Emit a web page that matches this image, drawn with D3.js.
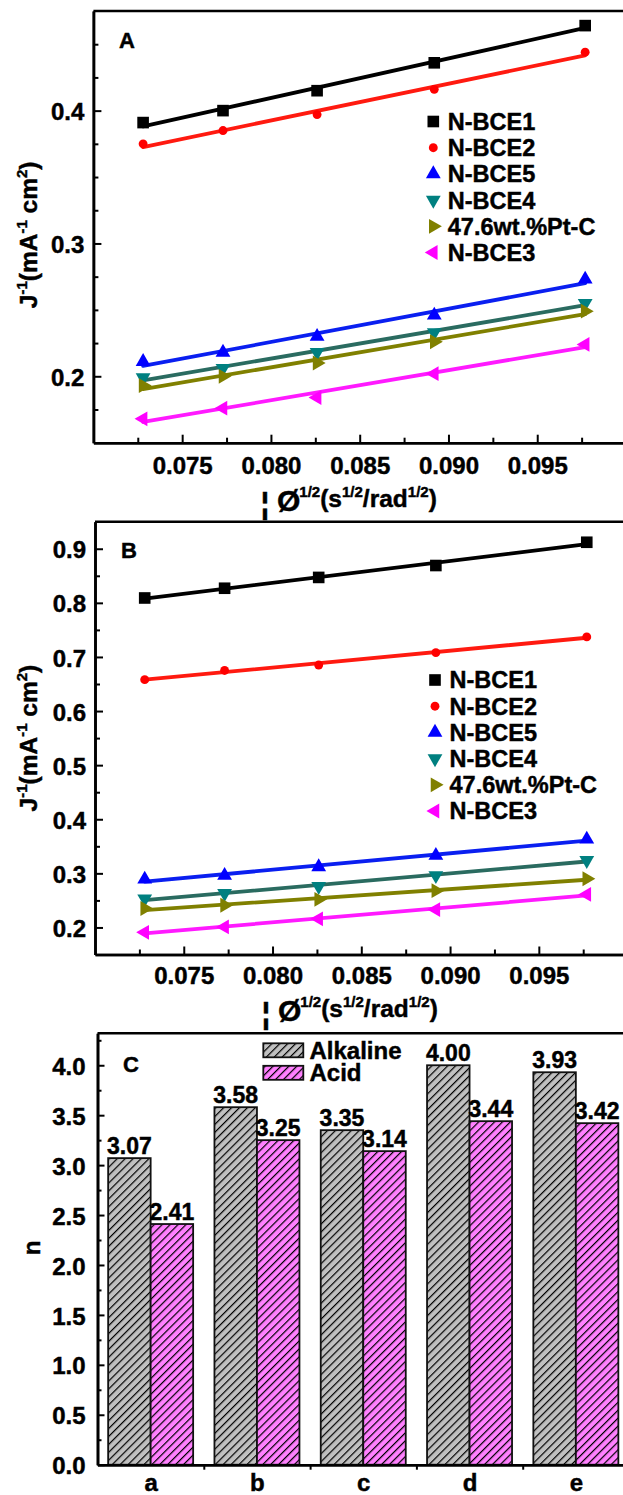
<!DOCTYPE html>
<html>
<head>
<meta charset="utf-8">
<script src="https://cdn.jsdelivr.net/npm/d3@7"></script>
<style>
  body { margin: 0; background: #fff; }
  svg text { font-family: "Liberation Sans", Arial, Helvetica, sans-serif; font-weight: bold; fill: #000;
             stroke: #000; stroke-width: 0.45px; }
</style>
</head>
<body>
<svg id="fig" width="623" height="1495"></svg>
<script>
// ---- data ----
// rotation rate term, omega^-1/2 (s^1/2 rad^-1/2)
const omegaInvSqrt = [0.0728, 0.0773, 0.0826, 0.0892, 0.0977];
const seriesNames = ["N-BCE1", "N-BCE2", "N-BCE5", "N-BCE4", "47.6wt.%Pt-C", "N-BCE3"];

// Panel A: J^-1 (mA^-1 cm^2)
const A_BCE1 = [0.391, 0.400, 0.415, 0.436, 0.464];
const A_BCE2 = [0.375, 0.385, 0.397, 0.416, 0.444];
const A_BCE5 = [0.211, 0.218, 0.230, 0.246, 0.273];
const A_BCE4 = [0.199, 0.206, 0.218, 0.233, 0.255];
const A_PtC  = [0.193, 0.200, 0.210, 0.226, 0.249];
const A_BCE3 = [0.168, 0.176, 0.184, 0.202, 0.224];

// Panel B: J^-1 (mA^-1 cm^2)
const B_BCE1 = [0.809, 0.827, 0.847, 0.869, 0.912];
const B_BCE2 = [0.658, 0.675, 0.685, 0.708, 0.737];
const B_BCE5 = [0.289, 0.296, 0.312, 0.333, 0.363];
const B_BCE4 = [0.253, 0.263, 0.276, 0.296, 0.324];
const B_PtC  = [0.235, 0.241, 0.252, 0.268, 0.290];
const B_BCE3 = [0.191, 0.201, 0.216, 0.233, 0.261];

// Panel C: electron transfer number n
const samples  = ["a", "b", "c", "d", "e"];
const alkaline = [3.07, 3.58, 3.35, 4.00, 3.93];
const acid     = [2.41, 3.25, 3.14, 3.44, 3.42];

// tick values
const xTicksMajor = [0.075, 0.080, 0.085, 0.090, 0.095];
const xTicksMinor = [0.0725, 0.0775, 0.0825, 0.0875, 0.0925, 0.0975];
const yTicksA = [0.2, 0.3, 0.4];
const yTicksAMinor = [0.175, 0.225, 0.25, 0.275, 0.325, 0.35, 0.375, 0.425, 0.45];
const yTicksB = [0.2, 0.3, 0.4, 0.5, 0.6, 0.7, 0.8, 0.9];
const yTicksBMinor = [0.25, 0.35, 0.45, 0.55, 0.65, 0.75, 0.85];
const yTicksC = [0.0, 0.5, 1.0, 1.5, 2.0, 2.5, 3.0, 3.5, 4.0];
const yTicksCMinor = [0.25, 0.75, 1.25, 1.75, 2.25, 2.75, 3.25, 3.75, 4.25];

// ---- styles ----
const markerColor = ["#000000", "#ff0000", "#0000ff", "#008080", "#808000", "#ff00ff"];
const lineColor   = ["#000000", "#ff1a10", "#0a1ff0", "#2a6b60", "#808000", "#ff1aff"];
const markerShape = [
  { type: d3.symbolSquare,   size: 135, rot: 0 },
  { type: d3.symbolCircle,   size: 62,  rot: 0 },
  { type: d3.symbolTriangle, size: 95,  rot: 0 },
  { type: d3.symbolTriangle, size: 95,  rot: 180 },
  { type: d3.symbolTriangle, size: 95,  rot: 90 },
  { type: d3.symbolTriangle, size: 95,  rot: -90 }
];

const svg = d3.select("#fig");
const FS = 24;

function fit(xs, ys) {
  const mx = d3.mean(xs), my = d3.mean(ys);
  let sxy = 0, sxx = 0;
  xs.forEach((x, i) => { sxy += (x - mx) * (ys[i] - my); sxx += (x - mx) * (x - mx); });
  const k = sxy / sxx;
  return x => my + k * (x - mx);
}

function styleAxis(g, fontSize) {
  g.select(".domain").attr("stroke", "#000").attr("stroke-width", 2.6);
  g.selectAll(".tick line").attr("stroke", "#000").attr("stroke-width", 2);
  g.selectAll("text").attr("font-size", fontSize).attr("fill", "#000")
    .style("font-family", '"Liberation Sans", Arial, sans-serif').style("font-weight", "bold");
}

function yTitle(x, y) {
  const t = svg.append("text").attr("transform", `translate(${x},${y}) rotate(-90)`)
    .attr("text-anchor", "middle").attr("font-size", 24.5);
  t.append("tspan").text("J");
  t.append("tspan").attr("font-size", 15).attr("dy", -10).text("-1");
  t.append("tspan").attr("dy", 10).text("(mA");
  t.append("tspan").attr("font-size", 15).attr("dy", -10).text("-1");
  t.append("tspan").attr("dy", 10).text(" cm");
  t.append("tspan").attr("font-size", 15).attr("dy", -10).text("2");
  t.append("tspan").attr("dy", 10).text(")");
}

function xTitle(x, baseline) {
  svg.append("text").attr("x", x - 12).attr("y", baseline + 7).attr("text-anchor", "middle")
    .attr("font-size", 30).text("\u00a6");
  const t = svg.append("text").attr("x", x).attr("y", baseline).attr("font-size", 24.5);
  t.append("tspan").attr("font-size", 30).attr("dy", 4).text("\u00d8");
  t.append("tspan").attr("font-size", 15).attr("dx", -1).attr("dy", -14).text("1/2");
  t.append("tspan").attr("dy", 10).text("(s");
  t.append("tspan").attr("font-size", 15).attr("dy", -10).text("1/2");
  t.append("tspan").attr("dy", 10).text("/rad");
  t.append("tspan").attr("font-size", 15).attr("dy", -10).text("1/2");
  t.append("tspan").attr("dy", 10).text(")");
}

function linePanel(cfg) {
  const x = d3.scaleLinear().domain([0.070, 0.100]).range(cfg.xRange);
  const y = d3.scaleLinear().domain(cfg.yDomain).range(cfg.yRange);
  const [x0, x1] = cfg.xRange, [yb, yt] = cfg.yRange;

  // top and right frame edges
  svg.append("line").attr("x1", x0).attr("x2", x1).attr("y1", yt).attr("y2", yt)
    .attr("stroke", "#000").attr("stroke-width", 2.4);
  svg.append("line").attr("x1", x1).attr("x2", x1).attr("y1", yt).attr("y2", yb)
    .attr("stroke", "#000").attr("stroke-width", 2.4);

  // axes, ticks pointing inward
  svg.append("g").attr("transform", `translate(0,${yb})`)
    .call(d3.axisBottom(x).tickValues(xTicksMinor).tickFormat("").tickSize(-5).tickSizeOuter(0))
    .call(g => styleAxis(g, FS));
  svg.append("g").attr("transform", `translate(0,${yb})`)
    .call(d3.axisBottom(x).tickValues(xTicksMajor).tickFormat(d3.format(".3f")).tickSize(-8)
      .tickSizeOuter(0).tickPadding(cfg.xPad))
    .call(g => styleAxis(g, FS));
  svg.append("g").attr("transform", `translate(${x0},0)`)
    .call(d3.axisLeft(y).tickValues(cfg.yMinor).tickFormat("").tickSize(-5).tickSizeOuter(0))
    .call(g => styleAxis(g, FS));
  svg.append("g").attr("transform", `translate(${x0},0)`)
    .call(d3.axisLeft(y).tickValues(cfg.yMajor).tickFormat(d3.format(".1f")).tickSize(-8)
      .tickSizeOuter(0).tickPadding(9))
    .call(g => styleAxis(g, FS))
    .call(g => g.selectAll("text").attr("dy", "0.38em"));

  // linear fits and points
  cfg.series.forEach((ys, i) => {
    const f = fit(omegaInvSqrt, ys);
    const xa = omegaInvSqrt[0], xb = omegaInvSqrt[omegaInvSqrt.length - 1];
    svg.append("line").attr("x1", x(xa)).attr("y1", y(f(xa))).attr("x2", x(xb)).attr("y2", y(f(xb)))
      .attr("stroke", lineColor[i]).attr("stroke-width", 3.8).attr("stroke-linecap", "round");
  });
  cfg.series.forEach((ys, i) => {
    const m = markerShape[i];
    svg.append("g").selectAll("path").data(ys).join("path")
      .attr("d", d3.symbol().type(m.type).size(m.size))
      .attr("transform", (d, j) => `translate(${x(omegaInvSqrt[j])},${y(d)}) rotate(${m.rot})`)
      .attr("fill", markerColor[i]);
  });

  // legend
  seriesNames.forEach((name, i) => {
    const ly = cfg.legendY + i * 26.2;
    const m = markerShape[i];
    svg.append("path").attr("d", d3.symbol().type(m.type).size(m.size)())
      .attr("transform", `translate(${cfg.legendX},${ly}) rotate(${m.rot})`)
      .attr("fill", markerColor[i]);
    svg.append("text").attr("x", cfg.legendX + 14.5).attr("y", ly).attr("dy", "0.36em")
      .attr("font-size", 23.5).text(name);
  });

  svg.append("text").attr("x", cfg.letter[0]).attr("y", cfg.letter[1]).attr("font-size", 22).text(cfg.letter[2]);
  yTitle(37, (yb + yt) / 2 + cfg.yTitleShift);
  xTitle(cfg.xTitle[0], cfg.xTitle[1]);
}

linePanel({
  xRange: [93.4, 626], yDomain: [0.15, 0.475], yRange: [442.7, 11],
  yMajor: yTicksA, yMinor: yTicksAMinor, xPad: 14,
  series: [A_BCE1, A_BCE2, A_BCE5, A_BCE4, A_PtC, A_BCE3],
  legendX: 433.3, legendY: 121.5, letter: [119, 48.3, "A"], yTitleShift: 8,
  xTitle: [277, 506.7]
});

linePanel({
  xRange: [95, 627.6], yDomain: [0.15, 0.95], yRange: [954.5, 521.7],
  yMajor: yTicksB, yMinor: yTicksBMinor, xPad: 12,
  series: [B_BCE1, B_BCE2, B_BCE5, B_BCE4, B_PtC, B_BCE3],
  legendX: 435, legendY: 680, letter: [121, 558.3, "B"], yTitleShift: 0,
  xTitle: [278, 1016.7]
});

// ---- Panel C: grouped hatched bars ----
const defs = svg.append("defs");
function hatch(id, bg) {
  const p = defs.append("pattern").attr("id", id).attr("patternUnits", "userSpaceOnUse")
    .attr("width", 5.6).attr("height", 5.6).attr("patternTransform", "rotate(45)");
  p.append("rect").attr("width", 5.6).attr("height", 5.6).attr("fill", bg);
  p.append("line").attr("x1", 0).attr("y1", -1).attr("x2", 0).attr("y2", 7)
    .attr("stroke", "#000").attr("stroke-width", 2.4);
}
hatch("hatchAlk", "#c0c0c0");
hatch("hatchAcid", "#ff80ff");

const xc = d3.scaleLinear().domain([0.5, 5.5]).range([97.5, 629]);
const yc = d3.scaleLinear().domain([0, 4.32]).range([1464.7, 1033.3]);
const barW = 42.5;

svg.append("line").attr("x1", 97.5).attr("x2", 629).attr("y1", 1033.3).attr("y2", 1033.3)
  .attr("stroke", "#000").attr("stroke-width", 2.4);

const groups = [
  { vals: alkaline, fill: "url(#hatchAlk)", off: -barW },
  { vals: acid, fill: "url(#hatchAcid)", off: 0 }
];
groups.forEach(gr => {
  svg.append("g").selectAll("rect").data(gr.vals).join("rect")
    .attr("x", (d, i) => xc(i + 1) + gr.off)
    .attr("y", d => yc(d))
    .attr("width", barW)
    .attr("height", d => yc(0) - yc(d))
    .attr("fill", gr.fill)
    .attr("stroke", "#111").attr("stroke-width", 1.8);
  svg.append("g").selectAll("text").data(gr.vals).join("text")
    .attr("x", (d, i) => xc(i + 1) + gr.off + barW / 2)
    .attr("y", d => yc(d) - 4.5)
    .attr("text-anchor", "middle").attr("font-size", 23)
    .text(d => d.toFixed(2));
});

svg.append("g").attr("transform", `translate(0,${yc(0)})`)
  .call(d3.axisBottom(xc).tickValues([1.5, 2.5, 3.5, 4.5]).tickFormat("").tickSize(5).tickSizeOuter(0))
  .call(g => styleAxis(g, FS));
svg.append("g").attr("transform", `translate(0,${yc(0)})`)
  .call(d3.axisBottom(xc).tickValues([1, 2, 3, 4, 5]).tickFormat(i => samples[i - 1]).tickSize(0)
    .tickSizeOuter(0).tickPadding(9))
  .call(g => styleAxis(g, FS));
svg.append("g").attr("transform", `translate(97.5,0)`)
  .call(d3.axisLeft(yc).tickValues(yTicksCMinor).tickFormat("").tickSize(-4).tickSizeOuter(0))
  .call(g => styleAxis(g, FS));
svg.append("g").attr("transform", `translate(97.5,0)`)
  .call(d3.axisLeft(yc).tickValues(yTicksC).tickFormat(d3.format(".1f")).tickSize(-7)
    .tickSizeOuter(0).tickPadding(12))
  .call(g => styleAxis(g, FS))
  .call(g => g.selectAll("text").attr("dy", "0.38em"));

// legend for bars
[["Alkaline", "url(#hatchAlk)"], ["Acid", "url(#hatchAcid)"]].forEach((e, i) => {
  const ty = 1043.3 + i * 22.5;
  svg.append("rect").attr("x", 263.3).attr("y", ty).attr("width", 40).attr("height", 14)
    .attr("fill", e[1]).attr("stroke", "#111").attr("stroke-width", 1.8);
  svg.append("text").attr("x", 309.5).attr("y", ty + 7).attr("dy", "0.36em")
    .attr("font-size", 24).text(e[0]);
});

svg.append("text").attr("x", 123).attr("y", 1071.7).attr("font-size", 22).text("C");
svg.append("text").attr("transform", "translate(40,1248) rotate(-90)").attr("text-anchor", "middle")
  .attr("font-size", 24).text("n");
</script>
</body>
</html>
